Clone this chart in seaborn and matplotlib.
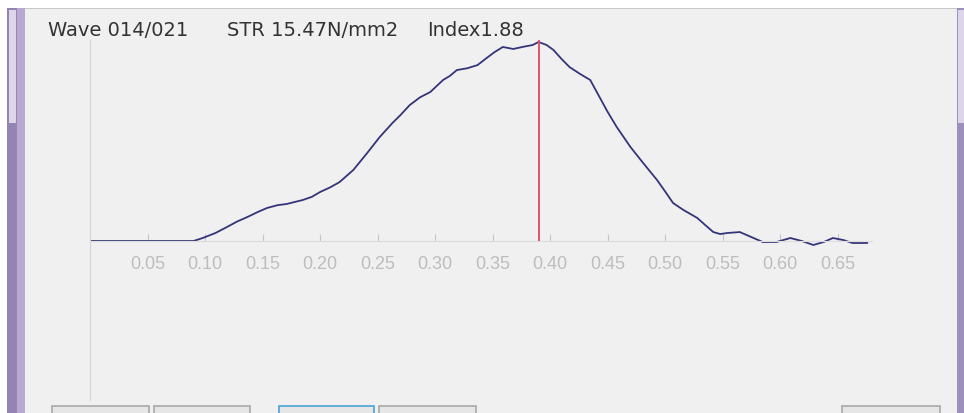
import numpy as np
import pandas as pd
import matplotlib
matplotlib.use("Agg")
import matplotlib.pyplot as plt
from matplotlib.patches import Rectangle
import seaborn as sns

# waveform (time, normalised amplitude)
t = [0.000, 0.052, 0.090, 0.098, 0.109, 0.119, 0.128, 0.137, 0.146, 0.154,
     0.163, 0.171, 0.185, 0.193, 0.200, 0.209, 0.217, 0.229, 0.241, 0.252,
     0.263, 0.270, 0.278, 0.287, 0.296, 0.307, 0.313, 0.319, 0.328, 0.337,
     0.345, 0.352, 0.359, 0.368, 0.376, 0.385, 0.390, 0.397, 0.403, 0.410,
     0.417, 0.426, 0.435, 0.443, 0.450, 0.458, 0.470, 0.481, 0.493, 0.500,
     0.507, 0.516, 0.528, 0.535, 0.542, 0.548, 0.554, 0.565, 0.575, 0.585,
     0.597, 0.609, 0.619, 0.629, 0.638, 0.646, 0.655, 0.663, 0.676]
amp = [0.000, 0.000, 0.000, 0.015, 0.040, 0.070, 0.098, 0.121, 0.146, 0.166,
       0.180, 0.186, 0.206, 0.222, 0.246, 0.270, 0.296, 0.357, 0.442, 0.523,
       0.593, 0.633, 0.683, 0.722, 0.749, 0.809, 0.830, 0.859, 0.868, 0.884,
       0.920, 0.950, 0.975, 0.965, 0.975, 0.985, 1.000, 0.985, 0.960, 0.915,
       0.874, 0.840, 0.809, 0.724, 0.650, 0.573, 0.472, 0.392, 0.307, 0.250,
       0.191, 0.156, 0.116, 0.080, 0.045, 0.035, 0.040, 0.045, 0.020, -0.005,
       -0.005, 0.015, 0.000, -0.020, -0.005, 0.015, 0.005, -0.010, -0.010]

peak_t = 0.390
xticks = [0.05, 0.10, 0.15, 0.20, 0.25, 0.30, 0.35, 0.40, 0.45, 0.50, 0.55, 0.60, 0.65]
wave_txt = "Wave 014/021"
str_txt = "STR 15.47N/mm2"
idx_txt = "Index1.88"

df = pd.DataFrame({"t": t, "amp": amp})

sns.set_style("white")
plt.rcParams["font.family"] = ["Liberation Sans", "DejaVu Sans"]

W, H = 964, 413
fig = plt.figure(figsize=(W / 100, H / 100), dpi=100)
fig.patch.set_facecolor("#f0f0f0")

# window chrome
def px_rect(x0, y0, x1, y1, **kw):
    fig.patches.append(Rectangle((x0 / W, 1 - y1 / H), (x1 - x0) / W, (y1 - y0) / H,
                                 transform=fig.transFigure, figure=fig, **kw))

px_rect(0, 0, W, 8, color="white", lw=0)
px_rect(0, 0, 7, H, color="white", lw=0)
px_rect(7, 8, 17, H, color="#9484b4", lw=0)
px_rect(17, 8, 25, H, color="#b7a9d0", lw=0)
px_rect(9, 10, 16, 123, color="#ddd6ea", lw=0)
px_rect(957, 8, W, H, color="#9e90bc", lw=0)
px_rect(958, 10, W, 123, color="#ddd6ea", lw=0)
px_rect(25, 8, 957, 9, color="#c8c8c8", lw=0)
for x0, x1, ec in [(52, 149, "#a8a8a8"), (154, 250, "#a8a8a8"), (279, 374, "#4aa3d6"),
                   (379, 476, "#a8a8a8"), (842, 940, "#a8a8a8")]:
    px_rect(x0, 406, x1, 420, facecolor="#e6e6e6", edgecolor=ec, lw=1.2)

# axes placed so that t=0 sits at x=90px and amp=0 at y=241px
ax = fig.add_axes([90 / W, 13 / H, 810 / W, 360 / H])
ax.set_facecolor("none")

sns.lineplot(data=df, x="t", y="amp", ax=ax, color="#34347a", linewidth=1.3)
ax.vlines(peak_t, 0, 1.015, color="#e4506c", linewidth=1.4, zorder=3)

ax.set_xlim(0, 810 / 1150)
ax.set_ylim((241 - 400) / 199, (241 - 40) / 199)

for s in ["top", "right"]:
    ax.spines[s].set_visible(False)
ax.spines["left"].set_color("#d4d4d4")
ax.spines["left"].set_linewidth(0.8)
ax.spines["bottom"].set_position(("data", 0))
ax.spines["bottom"].set_color("#dcdcdc")
ax.spines["bottom"].set_linewidth(0.8)
ax.spines["bottom"].set_bounds(0, 0.68)

ax.set_xticks(xticks)
ax.set_xticklabels([f"{v:.2f}" for v in xticks])
ax.tick_params(axis="x", direction="in", length=5, width=0.8, color="#c4c4c4",
               labelcolor="#bdbdbd", labelsize=13, pad=10.5, bottom=True)
ax.set_yticks([])
ax.set_xlabel("")
ax.set_ylabel("")

# header line
for x, s in [(48, wave_txt), (227, str_txt), (427, idx_txt)]:
    fig.text(x / W, 1 - 36 / H, s, fontsize=14, color="#333333", ha="left", va="baseline",
             family=["DejaVu Sans"])

fig.savefig("out.png", dpi=100, facecolor=fig.get_facecolor())
